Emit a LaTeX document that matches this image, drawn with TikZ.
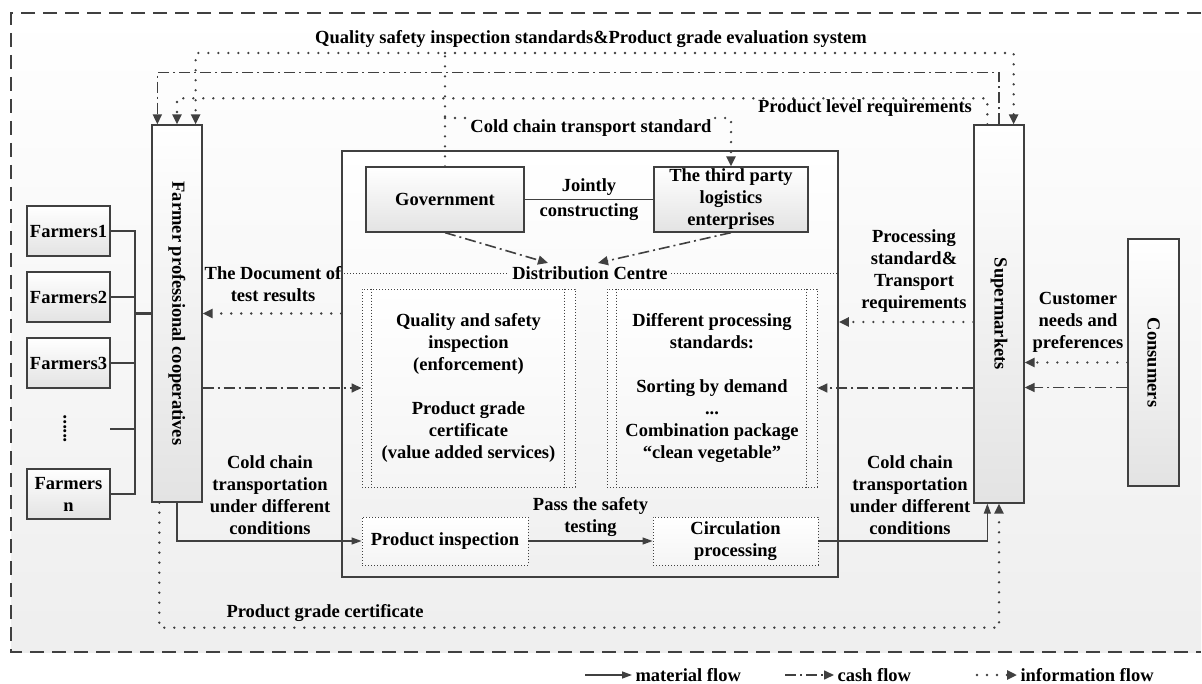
\documentclass[tikz,border=0pt]{standalone}
\usepackage{fontspec}
\setmainfont{Liberation Serif}
\usepackage{tikz}
\usetikzlibrary{arrows.meta, positioning, calc}
\definecolor{lnGray}{RGB}{64,64,64}

\tikzset{
  box/.style={draw=lnGray, line width=1.3pt, top color=white, bottom color=gray!22, align=center, inner sep=2pt},
  farmer/.style={box, minimum width=83pt, minimum height=50pt},
  dotbox/.style={draw=lnGray, line width=0.9pt, dash pattern=on 1pt off 2pt, top color=white, bottom color=gray!8, align=center},
  wire/.style={draw=lnGray, line width=1.3pt},
  divline/.style={draw=lnGray, line width=0.9pt, dash pattern=on 1pt off 2pt},
  mat/.style={draw=lnGray, line width=1.3pt, -{Triangle[length=10pt,width=7pt]}},
  cash/.style={draw=lnGray, line width=1.6pt, dash pattern=on 11pt off 4pt on 2pt off 4pt, -{Triangle[length=10pt,width=9pt]}},
  info/.style={draw=lnGray, line width=2.6pt, line cap=round, dash pattern=on 0pt off 10pt, -{Triangle[length=10pt,width=9pt]}}
}

\begin{document}
\begin{tikzpicture}[x=1pt, y=-1pt, font=\bfseries\fontsize{18.5}{22}\selectfont, every node/.style={align=center}]
\useasboundingbox (0,0) rectangle (1202,684);
% frame
\shade[top color=white, bottom color=gray!13] (11,13) rectangle (1201,652);
\draw[lnGray, line width=1.4pt, dash pattern=on 14pt off 8pt] (1201,13) -- (11,13) -- (11,652) -- (1201,652);

% farmers
\node[farmer] (f1) at (68.5,231) {Farmers1};
\node[farmer] (f2) at (68.5,297) {Farmers2};
\node[farmer] (f3) at (68.5,363) {Farmers3};
\node[rotate=90] (fdots) at (65,429) {......};
\node[farmer] (fn) at (68.5,494) {Farmers\\n};

% cooperatives, supermarkets, consumers
\node[box, minimum width=50pt, minimum height=377pt, label={[rotate=-90]center:Farmer professional cooperatives}] (fpc) at (177,313.5) {};
\node[box, minimum width=50pt, minimum height=378pt, label={[rotate=-90]center:Supermarkets}] (sup) at (999,314) {};
\node[box, minimum width=51pt, minimum height=247pt, label={[rotate=-90]center:Consumers}] (con) at (1153.5,362.5) {};

% bus to cooperatives
\coordinate (bustop) at (135,231);
\coordinate (busbot) at (135,494);
\coordinate (fdotsend) at (110,429);
\draw[wire] (f1.east) -- (bustop) -- (busbot) -- (fn.east);
\draw[wire] (f2.east) -- (f2.east -| bustop);
\draw[wire] (f3.east) -- (f3.east -| bustop);
\draw[wire] (fdotsend) -- (fdotsend -| bustop);
\draw[wire, line width=2.4pt] (bustop |- fpc.west) -- (fpc.west);

% distribution centre
\node[box, line width=1.6pt, bottom color=gray!12, minimum width=496pt, minimum height=426pt] (dc) at (590,364) {};
\node[box, minimum width=158pt, minimum height=65pt] (gov) at (445,199.5) {Government};
\node[box, minimum width=154pt, minimum height=65pt] (tpl) at (731,199.5) {The third party\\logistics\\enterprises};
\draw[wire] (gov.east) -- node[above]{Jointly} node[below]{constructing} (tpl.west);

\node (dclbl) at (590,273) {Distribution Centre};
\draw[divline] (dc.west |- dclbl) -- (dclbl.west);
\draw[divline] (dclbl.east) -- (dc.east |- dclbl);
\draw[cash] (gov.south) -- ($(dclbl.north)+(-42,0)$);
\draw[cash] (tpl.south) -- ($(dclbl.north)+(8,0)$);

\node[dotbox, minimum width=213pt, minimum height=198pt] (qsbox) at (468.5,388) {Quality and safety\\inspection\\(enforcement)\\[22pt]Product grade\\certificate\\(value added services)};
\node[dotbox, minimum width=210pt, minimum height=198pt] (dpbox) at (712,388) {Different processing\\standards:\\[22pt]Sorting by demand\\...\\Combination package\\“clean vegetable”};
\draw[divline] ($(qsbox.north west)+(10,0)$) -- ($(qsbox.south west)+(10,0)$);
\draw[divline] ($(qsbox.north east)+(-11,0)$) -- ($(qsbox.south east)+(-11,0)$);
\draw[divline] ($(dpbox.north west)+(10,0)$) -- ($(dpbox.south west)+(10,0)$);
\draw[divline] ($(dpbox.north east)+(-11,0)$) -- ($(dpbox.south east)+(-11,0)$);

\node[dotbox, minimum width=166pt, minimum height=48pt] (pibox) at (445,541) {Product inspection};
\node[dotbox, minimum width=165pt, minimum height=48pt] (cpbox) at (735.5,541) {Circulation\\processing};
\draw[mat] (pibox.east) -- node[above]{Pass the safety\\testing} (cpbox.west);

% top flows
\coordinate (topq) at (0,53);
\coordinate (ccsy) at (0,118);
\node (qslbl) at (591,39) {Quality safety inspection standards\&Product grade evaluation system};
\draw[info] (gov.north) -- (gov.north |- topq) -| ($(fpc.north east)+(-7,0)$);
\draw[info] (gov.north |- topq) -| ($(sup.north east)+(-11,0)$);
\draw[cash] (sup.north) -- ++(0,-52) -| ($(fpc.north west)+(6,0)$);
\draw[info] ($(sup.north west)+(14,0)$) -- ++(0,-26) -| (fpc.north);
\node (pllbl) at (865,108) {Product level requirements};
\node (ccslbl) at (591,128) {Cold chain transport standard};
\draw[info, -] (gov.north |- ccsy) -- (ccsy -| ccslbl.west);
\draw[info] (ccsy -| ccslbl.east) -| (tpl.north);

% middle flows
\draw[info] (dc.west |- fpc.east) -- (fpc.east);
\node (doclbl) at (273,284) {The Document of\\test results};
\draw[cash] (fpc.east |- qsbox.west) -- (qsbox.west);
\coordinate (supinfo) at ($(sup.west)+(0,8)$);
\draw[info] (supinfo) -- (supinfo -| dc.east);
\node (pstlbl) at (914,271) {Processing\\standard\&\\Transport\\requirements};
\draw[cash] (sup.west |- dpbox.east) -- (dpbox.east);
\draw[info] (con.west) -- (con.west -| sup.east);
\coordinate (concash) at ($(con.west)+(0,25)$);
\draw[cash] (concash) -- (concash -| sup.east);
\node (cnlbl) at (1078,322) {Customer\\needs and\\preferences};

% bottom flows
\draw[mat] (fpc.south) |- (pibox.west);
\draw[mat] (cpbox.east) -| ($(sup.south west)+(14,0)$);
\node (ccleft) at (270,495) {Cold chain\\transportation\\under different\\conditions};
\node (ccright) at (910,495) {Cold chain\\transportation\\under different\\conditions};
\draw[info] ($(fpc.south west)+(8,0)$) -- ++(0,125) -| (sup.south);
\node (pgclbl) at (325,613) {Product grade certificate};

% legend
\node[anchor=west] (lgmat) at (632,675) {material flow};
\draw[mat] ($(lgmat.west)+(-47,0)$) -- (lgmat.west);
\node[anchor=west] (lgcash) at (834,675) {cash flow};
\draw[cash] ($(lgcash.west)+(-49,0)$) -- (lgcash.west);
\node[anchor=west] (lginfo) at (1017,675) {information flow};
\draw[info] ($(lginfo.west)+(-40,0)$) -- (lginfo.west);
\end{tikzpicture}
\end{document}
